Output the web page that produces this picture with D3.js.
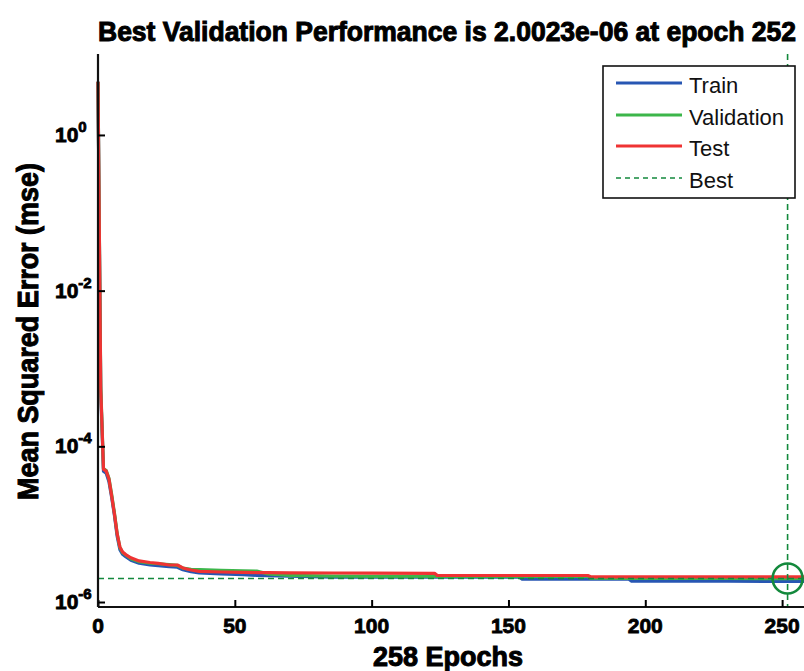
<!DOCTYPE html>
<html>
<head>
<meta charset="utf-8">
<script src="https://cdn.jsdelivr.net/npm/d3@7"></script>
<style>
  body { margin: 0; background: #fff; }
  svg { display: block; }
</style>
</head>
<body>
<script>
// epochs where the curves change
var epochs = [0, 1, 2, 3, 4, 5, 6, 7, 8, 9, 10, 12, 15, 19, 22, 26, 29, 31, 34, 37, 45, 53, 58, 62, 70, 86, 100, 123, 124, 154, 155, 179, 180, 194, 195, 230, 252, 258];

var trainMse = [4.83, 5.0e-4, 4.8e-5, 4.5e-5, 3.5e-5, 2.2e-5, 1.3e-5, 7.0e-6, 4.7e-6, 4.1e-6, 3.85e-6, 3.45e-6, 3.15e-6, 3.0e-6, 2.93e-6, 2.85e-6, 2.8e-6, 2.6e-6, 2.45e-6, 2.36e-6, 2.3e-6, 2.25e-6, 2.2e-6, 2.18e-6, 2.15e-6, 2.08e-6, 2.08e-6, 2.08e-6, 2.08e-6, 2.08e-6, 1.97e-6, 1.97e-6, 1.97e-6, 1.96e-6, 1.85e-6, 1.85e-6, 1.84e-6, 1.84e-6];

var valMse = [4.83, 6.0e-4, 5.2e-5, 4.9e-5, 3.9e-5, 2.4e-5, 1.4e-5, 7.6e-6, 5.0e-6, 4.3e-6, 4.05e-6, 3.6e-6, 3.3e-6, 3.15e-6, 3.1e-6, 3.02e-6, 2.95e-6, 2.72e-6, 2.62e-6, 2.6e-6, 2.56e-6, 2.52e-6, 2.5e-6, 2.3e-6, 2.2e-6, 2.15e-6, 2.14e-6, 2.14e-6, 2.14e-6, 2.13e-6, 2.13e-6, 2.13e-6, 2.02e-6, 2.01e-6, 2.01e-6, 2.005e-6, 2.0023e-6, 2.004e-6];

var testMse = [4.83, 5.5e-4, 5.1e-5, 4.8e-5, 3.8e-5, 2.3e-5, 1.35e-5, 7.5e-6, 5.1e-6, 4.4e-6, 4.1e-6, 3.7e-6, 3.37e-6, 3.22e-6, 3.13e-6, 2.99e-6, 2.99e-6, 2.74e-6, 2.58e-6, 2.47e-6, 2.43e-6, 2.41e-6, 2.39e-6, 2.38e-6, 2.37e-6, 2.36e-6, 2.35e-6, 2.34e-6, 2.19e-6, 2.19e-6, 2.19e-6, 2.19e-6, 2.11e-6, 2.11e-6, 2.11e-6, 2.11e-6, 2.11e-6, 2.11e-6];

var bestEpoch = 252;
var bestPerf = 2.0023e-6;
var totalEpochs = 258;

var xTicks = [0, 50, 100, 150, 200, 250];
var yTicks = [0, -2, -4, -6];   // powers of ten
var legendNames = ["Train", "Validation", "Test", "Best"];

var colTrain = "#2756b3", colVal = "#3cb64a", colTest = "#ef3333", colBest = "#13893c";

var width = 804, height = 671;
var pLeft = 98, pRight = 804, pTop = 54, pBottom = 607;

var svg = d3.select("body").append("svg").attr("width", width).attr("height", height);

var x = d3.scaleLinear().domain([0, totalEpochs]).range([pLeft, pRight]);
var y = d3.scaleLog().domain([Math.pow(10, -6.064), Math.pow(10, 1.04)]).range([pBottom, pTop]);

var plot = svg.append("g");

function series(vals) {
    return epochs.map(function (e, i) { return [e, vals[i]]; });
}

var line = d3.line()
    .x(function (d) { return x(d[0]); })
    .y(function (d) { return y(d[1]); });

[[trainMse, colTrain], [valMse, colVal], [testMse, colTest]].forEach(function (s) {
    plot.append("path")
        .attr("d", line(series(s[0])))
        .attr("fill", "none")
        .attr("stroke", s[1])
        .attr("stroke-width", 3.2)
        .attr("stroke-linejoin", "round");
});

// best lines
plot.append("line")
    .attr("x1", pLeft).attr("x2", pRight)
    .attr("y1", y(bestPerf)).attr("y2", y(bestPerf))
    .attr("stroke", colBest).attr("stroke-width", 1.6)
    .attr("stroke-dasharray", "6,4");
plot.append("line")
    .attr("x1", x(bestEpoch)).attr("x2", x(bestEpoch))
    .attr("y1", pTop).attr("y2", pBottom)
    .attr("stroke", colBest).attr("stroke-width", 1.6)
    .attr("stroke-dasharray", "6,4");
plot.append("circle")
    .attr("cx", x(bestEpoch)).attr("cy", y(bestPerf))
    .attr("r", 15)
    .attr("fill", "none")
    .attr("stroke", colBest).attr("stroke-width", 2.6);

// axes
var xAxis = svg.append("g").attr("transform", "translate(0," + pBottom + ")")
    .call(d3.axisTop(x).tickValues(xTicks).tickSize(7).tickFormat(""));
xAxis.select(".domain").attr("d", "M" + pLeft + ",0H" + pRight);
xAxis.selectAll("line").attr("stroke-width", 2);
xAxis.select(".domain").attr("stroke-width", 2.2);

var yAxis = svg.append("g").attr("transform", "translate(" + pLeft + ",0)")
    .call(d3.axisRight(y).tickValues(yTicks.map(function (p) { return Math.pow(10, p); })).tickSize(7).tickFormat(""));
yAxis.select(".domain").attr("d", "M0," + pTop + "V" + pBottom);
yAxis.selectAll("line").attr("stroke-width", 2);
yAxis.select(".domain").attr("stroke-width", 2.2);

svg.selectAll(".domain").attr("stroke", "#111");

var font = "'Liberation Sans', Arial, sans-serif";

svg.append("g").selectAll("text")
    .data(xTicks)
    .enter()
    .append("text")
    .attr("x", function (d) { return x(d); })
    .attr("y", 633)
    .attr("text-anchor", "middle")
    .attr("font-family", font)
    .attr("font-weight", "bold")
    .attr("font-size", 21)
    .attr("stroke", "#000").attr("stroke-width", 0.8)
    .text(function (d) { return d; });

var yl = svg.append("g").selectAll("text")
    .data(yTicks)
    .enter()
    .append("text")
    .attr("x", 55)
    .attr("y", function (d) { return y(Math.pow(10, d)) + 7; })
    .attr("font-family", font)
    .attr("font-weight", "bold")
    .attr("font-size", 21)
    .attr("stroke", "#000").attr("stroke-width", 0.8);
yl.append("tspan").text("10");
yl.append("tspan").attr("dy", -10).attr("font-size", 15).text(function (d) { return d === 0 ? "0" : "-" + (-d); });

// title and axis labels
svg.append("text")
    .attr("x", 98).attr("y", 41)
    .attr("font-family", font).attr("font-weight", "bold").attr("font-size", 27)
    .attr("stroke", "#000").attr("stroke-width", 1)
    .attr("textLength", 698).attr("lengthAdjust", "spacingAndGlyphs")
    .text("Best Validation Performance is 2.0023e-06 at epoch 252");

svg.append("text")
    .attr("x", 373).attr("y", 666)
    .attr("font-family", font).attr("font-weight", "bold").attr("font-size", 27)
    .attr("stroke", "#000").attr("stroke-width", 1)
    .attr("textLength", 150).attr("lengthAdjust", "spacingAndGlyphs")
    .text(totalEpochs + " Epochs");

svg.append("text")
    .attr("transform", "translate(38,500) rotate(-90)")
    .attr("font-family", font).attr("font-weight", "bold").attr("font-size", 29)
    .attr("stroke", "#000").attr("stroke-width", 1)
    .attr("textLength", 337).attr("lengthAdjust", "spacingAndGlyphs")
    .text("Mean Squared Error  (mse)");

// legend
var lg = svg.append("g");
lg.append("rect")
    .attr("x", 603).attr("y", 66).attr("width", 192).attr("height", 132)
    .attr("fill", "#fff").attr("stroke", "#111").attr("stroke-width", 1.6);

var rowY = [83, 115, 146, 178];
var legendCols = [colTrain, colVal, colTest, colBest];

var rows = lg.selectAll(".row")
    .data(legendNames)
    .enter()
    .append("g");

rows.append("line")
    .attr("x1", 616).attr("x2", 682)
    .attr("y1", function (d, i) { return rowY[i]; })
    .attr("y2", function (d, i) { return rowY[i]; })
    .attr("stroke", function (d, i) { return legendCols[i]; })
    .attr("stroke-width", function (d, i) { return i === 3 ? 1.6 : 3.2; })
    .attr("stroke-dasharray", function (d, i) { return i === 3 ? "5,4" : null; });

rows.append("text")
    .attr("x", 689)
    .attr("y", function (d, i) { return rowY[i] + 10; })
    .attr("font-family", font)
    .attr("font-size", 22)
    .attr("fill", "#111")
    .text(function (d) { return d; });
</script>
</body>
</html>
